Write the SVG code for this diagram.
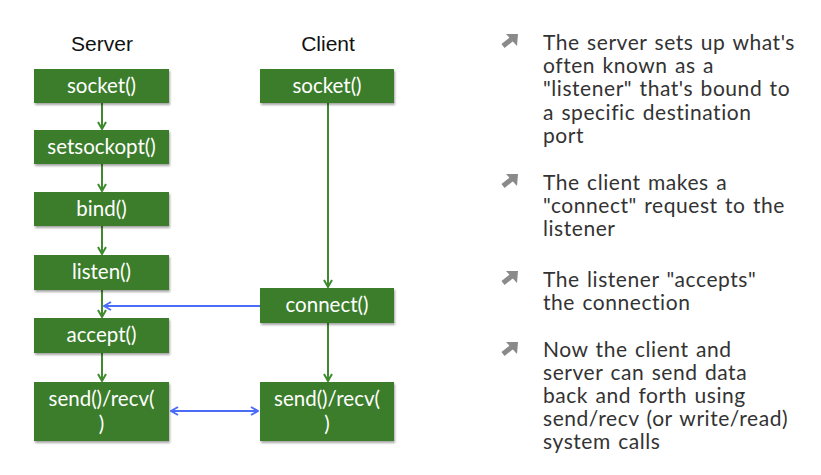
<svg xmlns="http://www.w3.org/2000/svg" width="821" height="475" viewBox="0 0 821 475">
<defs>
<style>
.box{fill:#3b7d2a;filter:url(#sh)}
.bt{font-family:Lato,"Open Sans",sans-serif;font-size:20.5px;fill:#fff;text-anchor:middle}
.hd{font-family:"Liberation Sans",Arial,sans-serif;font-size:21px;fill:#111;text-anchor:middle}
.g{stroke:#3f8a2e;stroke-width:2;fill:none}
.b{stroke:#4a6cf7;stroke-width:2;fill:none}
.tx{font-family:Lato,"Open Sans",sans-serif;font-size:21px;letter-spacing:0.55px;word-spacing:1.5px;fill:#333}
.bul{fill:#8a8a8a}
</style>
<filter id="sh" x="-10%" y="-20%" width="125%" height="150%">
<feDropShadow dx="1" dy="2" stdDeviation="1.2" flood-color="#000" flood-opacity="0.35"/>
</filter>
<marker id="ag" viewBox="0 0 10 10" refX="9" refY="5" markerWidth="10" markerHeight="10" orient="auto-start-reverse" markerUnits="userSpaceOnUse">
<path d="M2,1 L9,5 L2,9" fill="none" stroke="#3f8a2e" stroke-width="2"/>
</marker>
<marker id="ab" viewBox="0 0 10 10" refX="9" refY="5" markerWidth="10" markerHeight="10" orient="auto-start-reverse" markerUnits="userSpaceOnUse">
<path d="M2,1 L9,5 L2,9" fill="none" stroke="#4a6cf7" stroke-width="2"/>
</marker>
<g id="bu">
<path d="M506,0 L518,0 L517,12 Z"/>
<line x1="503" y1="12" x2="513" y2="4" stroke="#8a8a8a" stroke-width="5"/>
</g>
</defs>
<rect width="821" height="475" fill="#fff"/>
<text class="hd" x="102" y="51">Server</text>
<text class="hd" x="328" y="51">Client</text>
<g id="connectors">
<line class="g" x1="102" y1="103" x2="102" y2="129" marker-end="url(#ag)"/>
<line class="g" x1="102" y1="164" x2="102" y2="191" marker-end="url(#ag)"/>
<line class="g" x1="102" y1="226" x2="102" y2="254" marker-end="url(#ag)"/>
<line class="g" x1="102" y1="290" x2="102" y2="317" marker-end="url(#ag)"/>
<line class="g" x1="102" y1="353" x2="102" y2="381" marker-end="url(#ag)"/>
<line class="g" x1="328" y1="103" x2="328" y2="287" marker-end="url(#ag)"/>
<line class="g" x1="328" y1="323" x2="328" y2="381" marker-end="url(#ag)"/>
<line class="b" x1="260" y1="306" x2="104" y2="306" marker-end="url(#ab)"/>
<line class="b" x1="171" y1="411" x2="258" y2="411" marker-start="url(#ab)" marker-end="url(#ab)"/>
</g>
<g id="s-socket"><rect class="box" x="34" y="69" width="135" height="34"/><text class="bt" x="101.5" y="93">socket()</text></g>
<g id="s-setsockopt"><rect class="box" x="34" y="130" width="135" height="34"/><text class="bt" x="101.5" y="154">setsockopt()</text></g>
<g id="s-bind"><rect class="box" x="34" y="192" width="135" height="34"/><text class="bt" x="101.5" y="216">bind()</text></g>
<g id="s-listen"><rect class="box" x="34" y="255" width="135" height="35"/><text class="bt" x="101.5" y="279">listen()</text></g>
<g id="s-accept"><rect class="box" x="34" y="318" width="135" height="35"/><text class="bt" x="101.5" y="342">accept()</text></g>
<g id="s-sendrecv"><rect class="box" x="34" y="382" width="135" height="59"/><text class="bt" x="101.5" y="406">send()/recv(</text><text class="bt" x="101.5" y="431">)</text></g>
<g id="c-socket"><rect class="box" x="260" y="69" width="134" height="34"/><text class="bt" x="327" y="93">socket()</text></g>
<g id="c-connect"><rect class="box" x="260" y="288" width="134" height="35"/><text class="bt" x="327" y="312">connect()</text></g>
<g id="c-sendrecv"><rect class="box" x="260" y="382" width="134" height="59"/><text class="bt" x="327" y="406">send()/recv(</text><text class="bt" x="327" y="431">)</text></g>
<g id="bullets" class="bul">
<use href="#bu" y="34"/>
<use href="#bu" y="174"/>
<use href="#bu" y="271"/>
<use href="#bu" y="342"/>
</g>
<g id="notes" class="tx">
<text x="543" y="50">The server sets up what's</text>
<text x="543" y="73">often known as a</text>
<text x="543" y="96">"listener" that's bound to</text>
<text x="543" y="120">a specific destination</text>
<text x="543" y="143">port</text>
<text x="543" y="190">The client makes a</text>
<text x="543" y="213">"connect" request to the</text>
<text x="543" y="236">listener</text>
<text x="543" y="287">The listener "accepts"</text>
<text x="543" y="310">the connection</text>
<text x="543" y="357">Now the client and</text>
<text x="543" y="380">server can send data</text>
<text x="543" y="403">back and forth using</text>
<text x="543" y="426">send/recv (or write/read)</text>
<text x="543" y="449">system calls</text>
</g>
</svg>
